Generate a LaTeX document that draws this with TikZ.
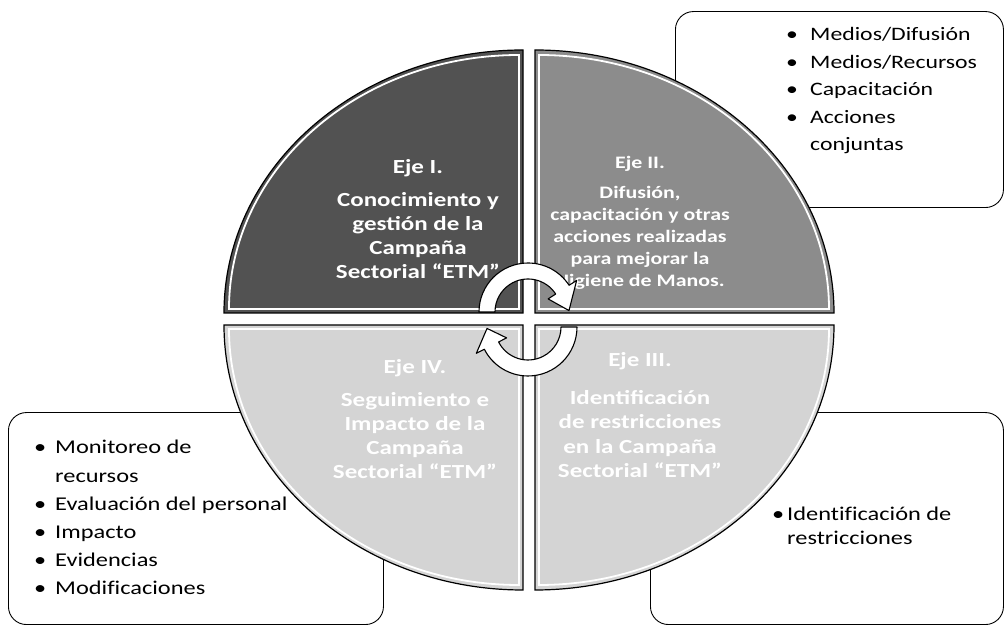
\documentclass[tikz,border=0pt]{standalone}
\usepackage{fontspec}
\setmainfont{Carlito}[FakeStretch=1.25]
\newfontfamily\listfont{Carlito}[FakeStretch=1.25, Ligatures=NoCommon]
\definecolor{axisdark}{gray}{0.32}
\definecolor{axismid}{gray}{0.55}
\definecolor{axislight}{gray}{0.83}
\newcommand\bul[1]{\makebox[#1][l]{\textbullet}}
\begin{document}
\begin{tikzpicture}[x=1pt,y=1pt,
  listbox/.style={draw=black, line width=0.9pt, rounded corners=18pt, anchor=south west, inner sep=0pt},
  quad/.style={draw=black, line width=1.2pt},
  rim/.style={draw=white, line width=1.8pt},
  axistext/.style={text=white, font=\bfseries, anchor=base, inner sep=0pt},
  listtext/.style={anchor=base west, inner sep=0pt, font=\listfont},
  cyclearrow/.style={fill=white, draw=black, line width=1.1pt, line join=round}]
\useasboundingbox (0,0) rectangle (1005,626);

% list boxes behind the disc
\node[listbox, minimum width=328pt, minimum height=196pt] (boxII) at (675,418) {};
\node[listbox, minimum width=375pt, minimum height=212pt] (boxIV) at (8,1) {};
\node[listbox, minimum width=353pt, minimum height=212pt] (boxIII) at (650,1) {};

% four quarter sectors of the disc
\path[quad, fill=axisdark] (523,313) -- (224,313) arc[start angle=180, end angle=90, x radius=299, y radius=263] -- cycle;
\path[quad, fill=axismid] (535,313) -- (834,313) arc[start angle=0, end angle=90, x radius=299, y radius=263] -- cycle;
\path[quad, fill=axislight] (523,301) -- (224,301) arc[start angle=180, end angle=270, x radius=299, y radius=265] -- cycle;
\path[quad, fill=axislight] (535,301) -- (834,301) arc[start angle=0, end angle=-90, x radius=299, y radius=265] -- cycle;

% inner white rims
\path[rim] (519,317) -- (229,317) arc[start angle=180, end angle=90, x radius=290, y radius=254] -- cycle;
\path[rim] (539,317) -- (829,317) arc[start angle=0, end angle=90, x radius=290, y radius=254] -- cycle;
\path[rim] (519,297) -- (229,297) arc[start angle=180, end angle=270, x radius=290, y radius=256] -- cycle;
\path[rim] (539,297) -- (829,297) arc[start angle=0, end angle=-90, x radius=290, y radius=256] -- cycle;

% sector titles
\node[axistext] (ejeI) at (418,452) {\fontsize{20}{24}\selectfont
  \begin{tabular}[t]{@{}c@{}}Eje I.\\[9pt] Conocimiento y\\ gestión de la\\ Campaña\\ Sectorial “ETM”\end{tabular}};
\node[axistext] (ejeII) at (640,457) {\fontsize{17.5}{22}\selectfont
  \begin{tabular}[t]{@{}c@{}}Eje II.\\[8pt] Difusión,\\ capacitación y otras\\ acciones realizadas\\ para mejorar la\\ Higiene de Manos.\end{tabular}};
\node[axistext] (ejeIII) at (640,259) {\fontsize{20}{24.5}\selectfont
  \begin{tabular}[t]{@{}c@{}}Eje III.\\[13pt] Identificación\\ de restricciones\\ en la Campaña\\ Sectorial “ETM”\end{tabular}};
\node[axistext] (ejeIV) at (415,252) {\fontsize{20}{24}\selectfont
  \begin{tabular}[t]{@{}c@{}}Eje IV.\\[9pt] Seguimiento e\\ Impacto de la\\ Campaña\\ Sectorial “ETM”\end{tabular}};

% circular arrows between the sectors
\coordinate (c1) at (528,314);
\coordinate (c2) at (528,299);
\draw[cyclearrow] ([shift={(c1)}]180:49) arc[start angle=180, end angle=33, radius=49]
  -- ([shift={(c1)}]33:58) -- ([shift={(c1)}]2:41) -- ([shift={(c1)}]33:24)
  -- ([shift={(c1)}]33:33) arc[start angle=33, end angle=180, radius=33] -- cycle;
\draw[cyclearrow] ([shift={(c2)}]0:49) arc[start angle=0, end angle=-153, radius=49]
  -- ([shift={(c2)}]-153:58) -- ([shift={(c2)}]-178:41) -- ([shift={(c2)}]-153:24)
  -- ([shift={(c2)}]-153:33) arc[start angle=-153, end angle=0, radius=33] -- cycle;

% bullet lists
\node[listtext] (listII) at (786,585) {\fontsize{19}{27.5}\selectfont
  \begin{tabular}[t]{@{}l@{}}\bul{24pt}Medios/Difusión\\ \bul{24pt}Medios/Recursos\\ \bul{24pt}Capacitación\\ \bul{24pt}Acciones\\ \hspace{24pt}conjuntas\end{tabular}};
\node[listtext] (listIV) at (34,172) {\fontsize{19.5}{28.2}\selectfont
  \begin{tabular}[t]{@{}l@{}}\bul{21pt}Monitoreo de\\ \hspace{21pt}recursos\\ \bul{21pt}Evaluación del personal\\ \bul{21pt}Impacto\\ \bul{21pt}Evidencias\\ \bul{21pt}Modificaciones\end{tabular}};
\node[listtext] (listIII) at (772,105) {\fontsize{19.5}{24}\selectfont
  \begin{tabular}[t]{@{}l@{}}\bul{15pt}Identificación de\\ \hspace{15pt}restricciones\end{tabular}};
\end{tikzpicture}
\end{document}
